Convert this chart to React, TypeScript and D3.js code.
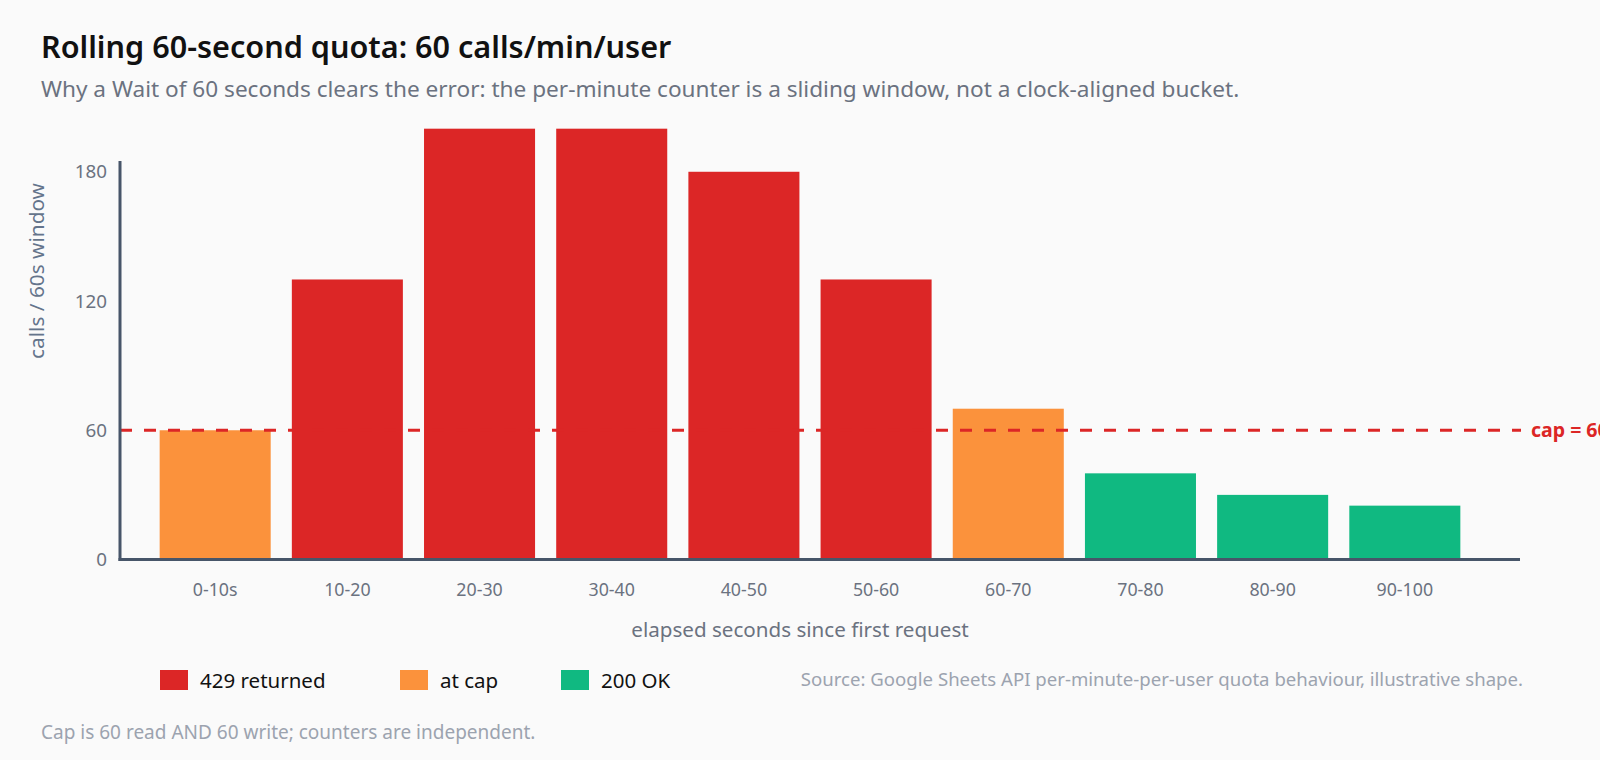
import React from "react";
import * as d3 from "d3";

const categories = ["0-10s", "10-20", "20-30", "30-40", "40-50", "50-60", "60-70", "70-80", "80-90", "90-100"];
const values = [60, 130, 200, 200, 180, 130, 70, 40, 30, 25];
const statuses = ["cap", "429", "429", "429", "429", "429", "cap", "ok", "ok", "ok"];
const yTicks = [0, 60, 120, 180];
const capValue = 60;
const legendItems = [
  { key: "429", label: "429 returned" },
  { key: "cap", label: "at cap" },
  { key: "ok", label: "200 OK" },
];

const colors: Record<string, string> = { "429": "#dc2626", cap: "#fb923c", ok: "#10b981" };
const FONT = "'Noto Sans', 'Open Sans', sans-serif";

export default function App() {
  const W = 1600, H = 760;
  const x = d3.scaleBand<string>().domain(categories).range([120, 1500]).paddingInner(0.16).paddingOuter(0.3);
  const y = d3.scaleLinear().domain([0, 185]).range([559.5, 161]);
  const legendX = [160, 400, 561];

  return (
    <svg width={W} height={H} style={{ position: "absolute", left: 0, top: 0, background: "#fafafa" }} fontFamily={FONT}>
      <rect x={0} y={0} width={W} height={H} fill="#fafafa" />
      <text x={41} y={58} fontSize={30.6} fontWeight={600} fill="#111">Rolling 60-second quota: 60 calls/min/user</text>
      <text x={41} y={97} fontSize={22.6} fill="#6b7280">Why a Wait of 60 seconds clears the error: the per-minute counter is a sliding window, not a clock-aligned bucket.</text>

      {categories.map((c, i) => (
        <rect key={c} x={x(c)} y={y(values[i])} width={x.bandwidth()} height={y(0) - y(values[i])} fill={colors[statuses[i]]} />
      ))}

      <line x1={120} x2={1521} y1={y(capValue)} y2={y(capValue)} stroke="#dc2626" strokeWidth={3} strokeDasharray="12 12" />
      <text x={1531} y={y(capValue)} dy="0.35em" fontSize={19.5} fontWeight={700} fill="#dc2626">cap = 60</text>

      <line x1={120} x2={120} y1={161} y2={y(0) + 1.5} stroke="#475569" strokeWidth={3} />
      <line x1={118.5} x2={1520} y1={y(0)} y2={y(0)} stroke="#475569" strokeWidth={3} />

      {yTicks.map((t) => (
        <text key={t} x={107} y={y(t)} dy="0.35em" textAnchor="end" fontSize={18.8} fill="#6b7280">{t}</text>
      ))}
      {categories.map((c) => (
        <text key={c} x={(x(c) as number) + x.bandwidth() / 2} y={596} textAnchor="middle" fontSize={17.8} fill="#6b7280">{c}</text>
      ))}

      <text transform={`translate(37,271) rotate(-90)`} dy="0.35em" textAnchor="middle" fontSize={20.8} fill="#64748b">calls / 60s window</text>
      <text x={800} y={637} textAnchor="middle" fontSize={20.6} fill="#6b7280">elapsed seconds since first request</text>

      {legendItems.map((l, i) => (
        <g key={l.key}>
          <rect x={legendX[i]} y={670} width={28} height={20} fill={colors[l.key]} />
          <text x={legendX[i] + 40} y={687.5} fontSize={20.5} fill="#111">{l.label}</text>
        </g>
      ))}
      <text x={1523} y={686} textAnchor="end" fontSize={18.6} fill="#9ca3af">Source: Google Sheets API per-minute-per-user quota behaviour, illustrative shape.</text>
      <text x={41} y={739} fontSize={19} fill="#9ca3af">Cap is 60 read AND 60 write; counters are independent.</text>
    </svg>
  );
}
